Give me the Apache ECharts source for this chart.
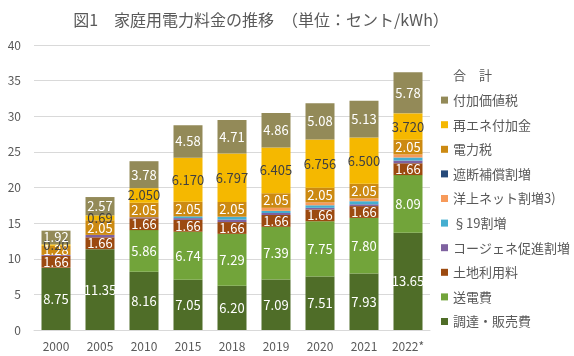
<!DOCTYPE html>
<html><head><meta charset="utf-8">
<script src="https://cdn.jsdelivr.net/npm/echarts@6/dist/echarts.min.js"></script>
<style>html,body{margin:0;padding:0;background:#fff}#c{width:574px;height:356px}</style>
</head><body><div id="c"></div>
<script>
const years = ['2000','2005','2010','2015','2018','2019','2020','2021','2022*'];
const procurement = [8.75, 11.35, 8.16, 7.05, 6.20, 7.09, 7.51, 7.93, 13.65];
const transmission = [0, 0, 5.86, 6.74, 7.29, 7.39, 7.75, 7.80, 8.09];
const concession = [1.66, 1.66, 1.66, 1.66, 1.66, 1.66, 1.66, 1.66, 1.66];
const chp = [0.13, 0.34, 0.13, 0.254, 0.345, 0.280, 0.226, 0.254, 0.378];
const sec19 = [0, 0, 0, 0.237, 0.370, 0.305, 0.358, 0.432, 0.437];
const offshore = [0, 0, 0, 0, 0.037, 0.416, 0.416, 0.395, 0.419];
const interrupt = [0, 0, 0, 0.006, 0.011, 0.005, 0.007, 0.009, 0.003];
const elecTax = [1.28, 2.05, 2.05, 2.05, 2.05, 2.05, 2.05, 2.05, 2.05];
const eeg = [0.20, 0.69, 2.050, 6.170, 6.797, 6.405, 6.756, 6.500, 3.720];
const vat = [1.92, 2.57, 3.78, 4.58, 4.71, 4.86, 5.08, 5.13, 5.78];
const totals = [13.94, 18.66, 23.69, 28.70, 29.47, 30.46, 31.81, 32.16, 36.19];
const yTicks = [0, 5, 10, 15, 20, 25, 30, 35, 40];

const FONT = '"Noto Sans CJK JP", sans-serif';
const TXT = '#595959';

function mk(name, data, color, labelOpt) {
  const s = {name, type: 'bar', stack: 'total', data, barWidth: 29,
    itemStyle: {color}, emphasis: {disabled: true}};
  if (labelOpt) {
    s.label = Object.assign({show: true, position: 'inside', fontSize: 13, fontFamily: FONT,
      color: '#fff'}, labelOpt);
  }
  return s;
}
const f2 = p => p.value > 0 ? p.value.toFixed(2) : '';
const fEeg = p => p.value > 0 ? (p.value < 1 ? p.value.toFixed(2) : p.value.toFixed(3)) : '';

const series = [
  mk('調達・販売費', procurement, '#4f6d28', {formatter: f2}),
  mk('送電費', transmission, '#72a43a', {formatter: f2}),
  mk('土地利用料', concession, '#9c4a10', {formatter: f2}),
  mk('コージェネ促進割増', chp, '#7f62a0'),
  mk('§19割増', sec19, '#45aed0'),
  mk('洋上ネット割増3)', offshore, '#f79a5a'),
  mk('遮断補償割増', interrupt, '#264a7a'),
  mk('電力税', elecTax, '#cc8a12', {formatter: f2}),
  mk('再エネ付加金', eeg, '#f5b800', {formatter: fEeg, color: '#404040'}),
  mk('付加価値税', vat, '#938a58', {formatter: f2}),
  {name: '合　計', type: 'line', data: totals, symbol: 'none', lineStyle: {opacity: 0},
   itemStyle: {color: 'transparent'}, emphasis: {disabled: true},
   label: {show: true, position: 'top', distance: 6, fontSize: 14, fontFamily: FONT, color: '#404040',
     formatter: p => p.value.toFixed(2)}}
];

const legendNames = ['合　計','付加価値税','再エネ付加金','電力税','遮断補償割増','洋上ネット割増3)','§19割増','コージェネ促進割増','土地利用料','送電費','調達・販売費'];

const chart = echarts.init(document.getElementById('c'), null, {renderer: 'canvas'});
chart.setOption({
  animation: false,
  backgroundColor: '#fff',
  title: {text: '図1　家庭用電力料金の推移　（単位：セント/kWh）', left: 256, textAlign: 'center', top: 7,
    textStyle: {fontSize: 16, fontWeight: 'normal', color: TXT, fontFamily: FONT}},
  grid: {left: 34, right: 144, top: 45, bottom: 26, containLabel: false},
  legend: {orient: 'vertical', left: 436, top: 63, itemWidth: 7, itemHeight: 7, itemGap: 9.6,
    selectedMode: false,
    textStyle: {fontSize: 13, color: TXT, fontFamily: FONT, lineHeight: 15},
    data: legendNames.map(n => n === '合　計' ? {name: n, icon: 'none'} : {name: n, icon: 'rect'})},
  xAxis: {type: 'category', data: years,
    axisLine: {lineStyle: {color: '#d9d9d9'}}, axisTick: {show: false},
    axisLabel: {color: TXT, fontSize: 12, fontFamily: FONT, margin: 10}},
  yAxis: {type: 'value', min: yTicks[0], max: yTicks[yTicks.length - 1], interval: 5,
    axisLine: {show: false}, axisTick: {show: false},
    splitLine: {lineStyle: {color: '#d9d9d9'}},
    axisLabel: {color: TXT, fontSize: 12, fontFamily: FONT, margin: 13}},
  series
});
</script></body></html>
